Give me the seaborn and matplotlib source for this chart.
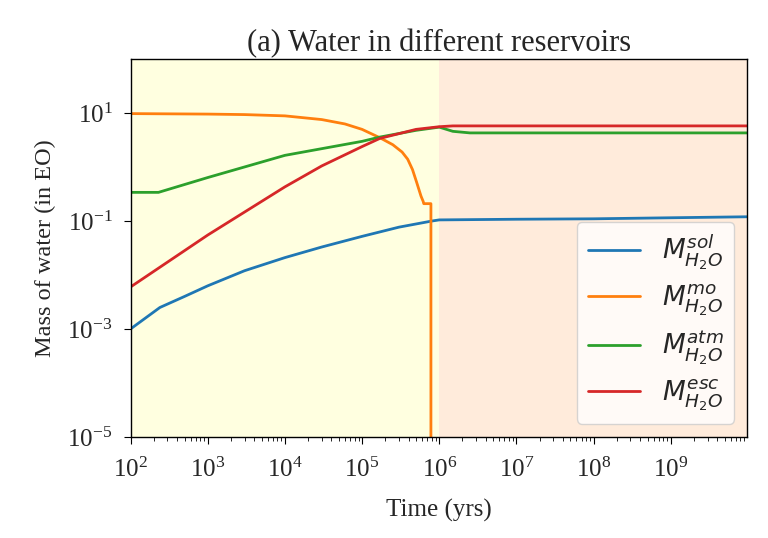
import numpy as np
import pandas as pd
import seaborn as sns
import matplotlib.pyplot as plt
from matplotlib.ticker import LogLocator, NullLocator

# time (yrs) and water mass (in EO) for each reservoir
t_sol = [1e2, 2.4e2, 5e2, 1e3, 3e3, 1e4, 3e4, 1e5, 3e5, 8e5, 1e6, 1e7, 1e8, 1e9, 9.8e9]
m_sol = [1.0e-3, 2.5e-3, 4.0e-3, 6.3e-3, 1.2e-2, 2.1e-2, 3.3e-2, 5.2e-2, 7.7e-2, 0.1, 0.105, 0.108, 0.11, 0.115, 0.12]

t_mo = [1e2, 1e3, 3e3, 1e4, 3e4, 6e4, 1e5, 1.7e5, 2.5e5, 3.3e5, 3.9e5, 4.5e5, 5.1e5, 5.8e5, 6.2e5, 6.3e5, 7.8e5, 7.8e5]
m_mo = [9.8, 9.6, 9.4, 8.9, 7.6, 6.3, 5.0, 3.5, 2.6, 1.9, 1.4, 0.9, 0.52, 0.29, 0.23, 0.21, 0.21, 1e-7]

t_atm = [1e2, 2.3e2, 1e3, 1e4, 1e5, 1.7e5, 5e5, 1e6, 1.5e6, 2.5e6, 1e7, 1e8, 1e9, 9.8e9]
m_atm = [0.34, 0.34, 0.64, 1.65, 3.0, 3.6, 4.8, 5.5, 4.6, 4.3, 4.3, 4.3, 4.3, 4.3]

t_esc = [1e2, 1e3, 1e4, 3e4, 1e5, 1.7e5, 5e5, 1e6, 1.5e6, 1e7, 1e8, 1e9, 9.8e9]
m_esc = [0.006, 0.055, 0.43, 1.05, 2.4, 3.4, 5.0, 5.6, 5.8, 5.8, 5.8, 5.8, 5.8]

labels = [r'$M^{sol}_{H_2O}$', r'$M^{mo}_{H_2O}$', r'$M^{atm}_{H_2O}$', r'$M^{esc}_{H_2O}$']
phase_edges = [1e2, 1e6, 9.8e9]

sns.set_style('ticks')
plt.rcParams['font.family'] = ['Liberation Serif', 'DejaVu Serif']
plt.rcParams['mathtext.fontset'] = 'dejavusans'

fig = plt.figure(figsize=(7.68, 5.38), dpi=100)
ax = fig.add_axes([0.170, 0.188, 0.803, 0.702])

ax.axvspan(phase_edges[0], phase_edges[1], color='yellow', alpha=0.12, lw=0)
ax.axvspan(phase_edges[1], phase_edges[2], color='tab:orange', alpha=0.15, lw=0)

series = [(t_sol, m_sol, 'tab:blue'), (t_mo, m_mo, 'tab:orange'),
          (t_atm, m_atm, 'tab:green'), (t_esc, m_esc, 'tab:red')]
for (t, m, c), lab in zip(series, labels):
    df = pd.DataFrame({'t': t, 'm': m})
    sns.lineplot(data=df, x='t', y='m', ax=ax, color=c, lw=2, label=lab,
                 sort=False, estimator=None)

ax.set_xscale('log')
ax.set_yscale('log')
ax.set_xlim(1e2, 9.8e9)
ax.set_ylim(1e-5, 1e2)
ax.set_yticks([1e-5, 1e-3, 1e-1, 1e1])
ax.yaxis.set_minor_locator(NullLocator())
ax.xaxis.set_major_locator(LogLocator(base=10, numticks=20))
ax.xaxis.set_minor_locator(LogLocator(base=10, subs=np.arange(2, 10), numticks=20))
ax.tick_params(axis='both', which='major', labelsize=18, length=5, color='black')
ax.tick_params(axis='x', which='major', pad=10)
ax.tick_params(axis='y', which='major', pad=8)
ax.tick_params(axis='x', which='minor', length=3, color='black')
for s in ax.spines.values():
    s.set_color('black')
    s.set_linewidth(1.0)

ax.set_xlabel('Time (yrs)', fontsize=18, labelpad=12)
ax.set_ylabel('Mass of water (in EO)', fontsize=17.5, labelpad=8)
ax.set_title('(a) Water in different reservoirs', fontsize=22)

ax.legend(loc='lower right', fontsize=19, handlelength=2.0, labelspacing=0.4, framealpha=0.8)

fig.savefig('out.png', dpi=100)
